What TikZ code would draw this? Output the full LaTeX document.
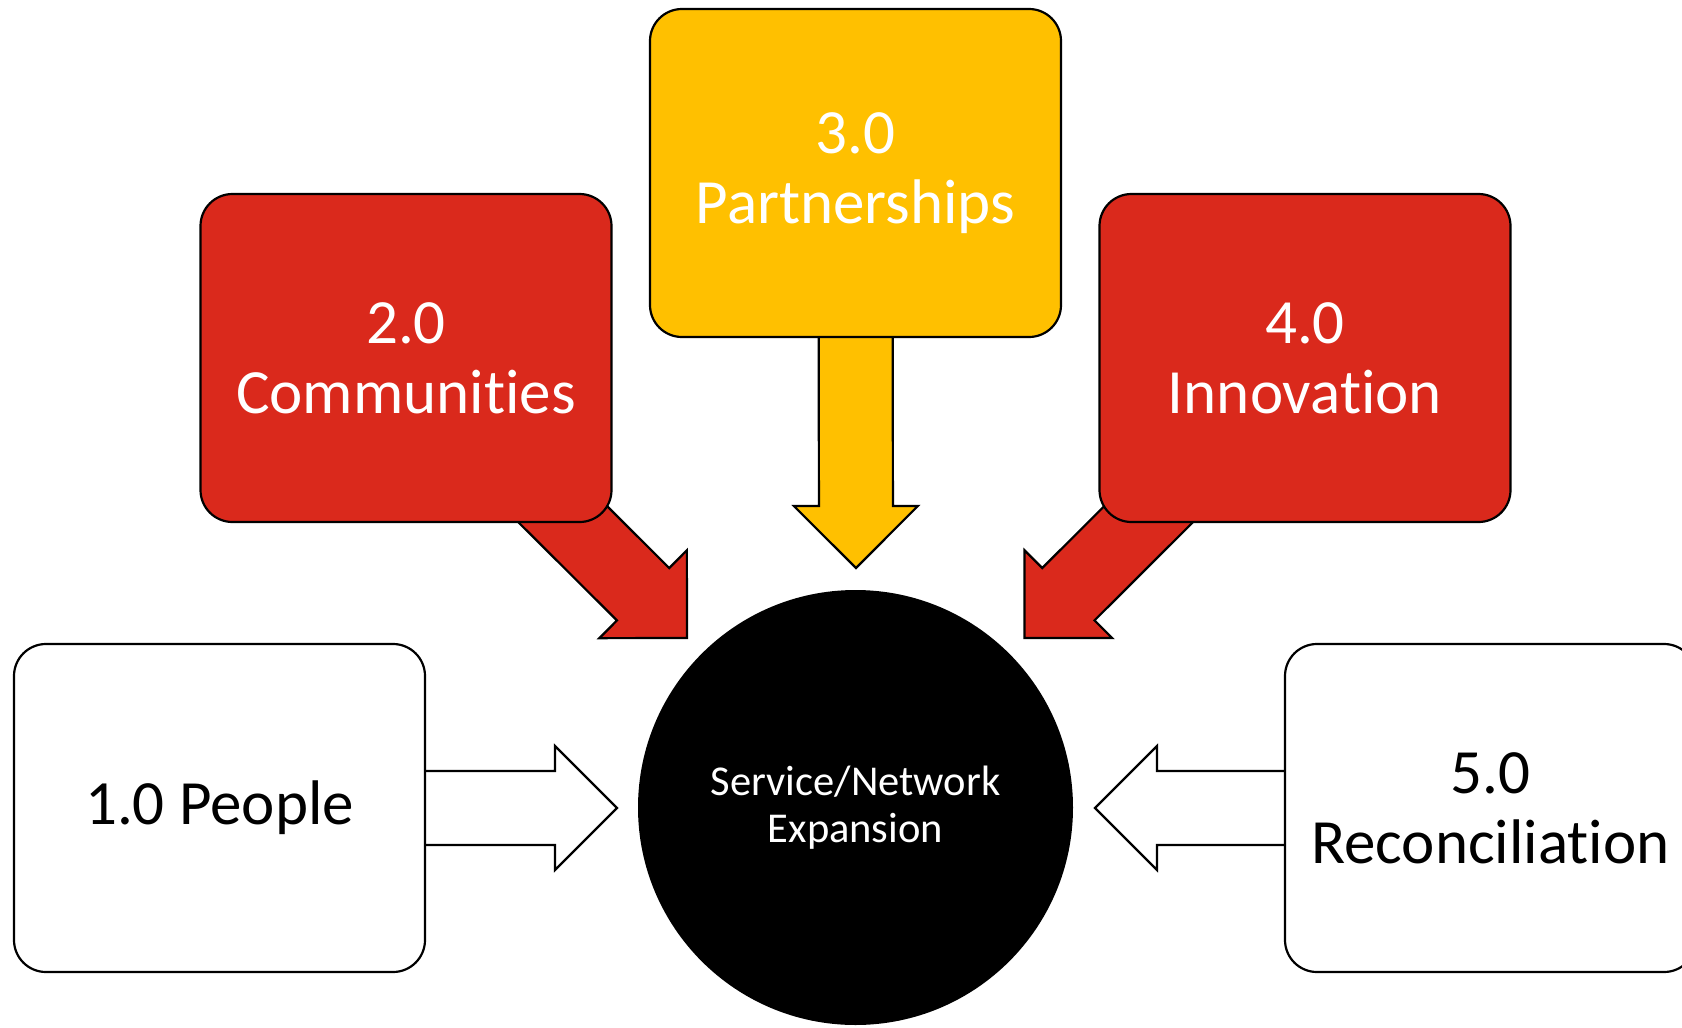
\documentclass[tikz,border=0pt]{standalone}
\usepackage{fontspec}
\setmainfont{Carlito}[Ligatures={NoCommon}]
\usetikzlibrary{calc,backgrounds}
\definecolor{myred}{HTML}{DA291C}
\definecolor{mygold}{HTML}{FFC000}
\newcommand\blockarrow[3][]{%
  \coordinate (ba-h) at ($(#3)!62pt!(#2)$);
  \draw[#1] ($(#2)!37pt!90:(#3)$) -- ($(ba-h)!37pt!90:(#3)$) -- ($(ba-h)!62pt!90:(#3)$) -- (#3)
    -- ($(ba-h)!62pt!-90:(#3)$) -- ($(ba-h)!37pt!-90:(#3)$) -- ($(#2)!37pt!-90:(#3)$) -- cycle;}
\begin{document}
\begin{tikzpicture}[x=1pt,y=-1pt,
  box/.style={draw=black,line width=2.2pt,rectangle,rounded corners=32pt,minimum width=411pt,minimum height=328pt,inner sep=0pt,align=center,font=\fontsize{63}{70}\selectfont},
  barrow/.style={draw=black,line width=2.2pt,line join=miter}]
\useasboundingbox (0,0) rectangle (1682,1028);
\node[box,fill=mygold,text=white] (b3) at (855.5,173) {3.0\\Partnerships};
\node[box,fill=myred,text=white] (b2) at (406,358) {2.0\\Communities};
\node[box,fill=myred,text=white] (b4) at (1305,358) {4.0\\Innovation};
\node[box,fill=white,text=black] (b1) at (219.5,808) {1.0 People};
\node[box,fill=white,text=black] (b5) at (1490.5,808) {5.0\\Reconciliation};
\node[circle,fill=black,text=white,minimum size=435pt,inner sep=0pt,align=center,font=\fontsize{42.5}{47}\selectfont] (c) at (855.5,807.5) {Service/Network\\Expansion};
\coordinate (t3) at (856,568);
\coordinate (t2) at (687,638);
\coordinate (t4) at (1024.5,638);
\coordinate (t1) at (617,808);
\coordinate (t5) at (1095,808);
\begin{pgfonlayer}{background}
\blockarrow[barrow,fill=mygold]{b3}{t3}
\blockarrow[barrow,fill=myred]{b2}{t2}
\blockarrow[barrow,fill=myred]{b4}{t4}
\blockarrow[barrow,fill=white]{b1}{t1}
\blockarrow[barrow,fill=white]{b5}{t5}
\end{pgfonlayer}
\end{tikzpicture}
\end{document}
